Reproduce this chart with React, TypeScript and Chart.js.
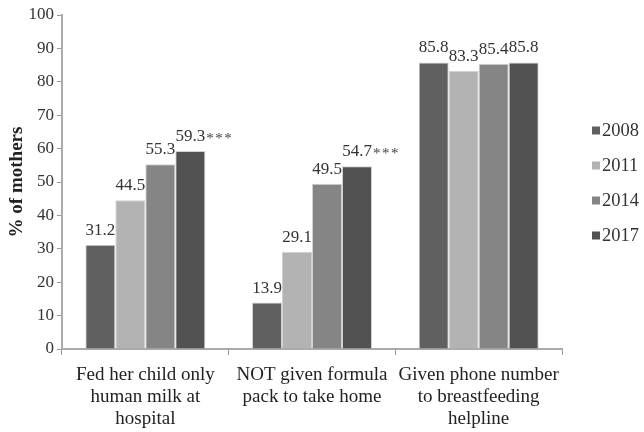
import React, { useEffect, useRef } from "react";
import { Chart, registerables } from "chart.js";

Chart.register(...registerables);

const categories: string[][] = [
  ["Fed her child only", "human milk at", "hospital"],
  ["NOT given formula", "pack to take home"],
  ["Given phone number", "to breastfeeding", "helpline"],
];
const years = ["2008", "2011", "2014", "2017"];
const values2008 = [31.2, 13.9, 85.8];
const values2011 = [44.5, 29.1, 83.3];
const values2014 = [55.3, 49.5, 85.4];
const values2017 = [59.3, 54.7, 85.8];
const marks2017 = ["***", "***", ""];
const yTicks = [0, 10, 20, 30, 40, 50, 60, 70, 80, 90, 100];
const colors = ["#606060", "#b3b3b3", "#858585", "#525252"];

const FONT = "'Liberation Serif', 'Times New Roman', serif";

export default function App() {
  const ref = useRef<HTMLCanvasElement | null>(null);
  useEffect(() => {
    if (!ref.current) return;
    const series = [values2008, values2011, values2014, values2017];
    const marks = [null, null, null, marks2017];

    const labelPlugin = {
      id: "barLabels",
      afterDatasetsDraw(chart: any) {
        const ctx = chart.ctx;
        ctx.save();
        chart.data.datasets.forEach((ds: any, di: number) => {
          const meta = chart.getDatasetMeta(di);
          meta.data.forEach((bar: any, i: number) => {
            const v = ds.data[i];
            const txt = v.toFixed(1);
            ctx.font = `17px ${FONT}`;
            ctx.fillStyle = "#333";
            ctx.textAlign = "center";
            ctx.textBaseline = "alphabetic";
            const y = bar.y - 10;
            ctx.fillText(txt, bar.x, y);
            const m = marks[di];
            if (m && m[i]) {
              const w = ctx.measureText(txt).width;
              ctx.font = `15px ${FONT}`;
              ctx.textAlign = "left";
              ctx.fillStyle = "#444";
              const chars = m[i].split("");
              chars.forEach((c: string, k: number) => {
                ctx.fillText(c, bar.x + w / 2 + 1 + k * 9, y + 2);
              });
            }
          });
        });
        ctx.restore();
      },
    };

    const legendPlugin = {
      id: "sideLegend",
      afterDraw(chart: any) {
        const ctx = chart.ctx;
        ctx.save();
        const area = chart.chartArea;
        const x0 = area.right + 30;
        const midY = (area.top + area.bottom) / 2;
        const step = 35;
        const startY = midY - ((years.length - 1) * step) / 2 + 1;
        years.forEach((yr, i) => {
          const cy = startY + i * step;
          ctx.fillStyle = colors[i];
          ctx.fillRect(x0, cy - 4, 8, 8);
          ctx.font = `18.5px ${FONT}`;
          ctx.fillStyle = "#333";
          ctx.textAlign = "left";
          ctx.textBaseline = "middle";
          ctx.fillText(yr, x0 + 10, cy + 1);
        });
        ctx.restore();
      },
    };

    const chart = new Chart(ref.current, {
      type: "bar",
      data: {
        labels: categories,
        datasets: years.map((yr, i) => ({
          label: yr,
          data: series[i],
          backgroundColor: colors[i],
          borderColor: "rgba(190,190,190,0.7)",
          borderWidth: 1,
          barPercentage: 1,
          categoryPercentage: 0.72,
        })),
      },
      options: {
        animation: false,
        responsive: false,
        devicePixelRatio: 1,
        layout: { padding: { top: 15, right: 82, bottom: 0, left: 0 } },
        plugins: {
          legend: { display: false },
          tooltip: { enabled: false },
        },
        scales: {
          x: {
            offset: true,
            grid: {
              offset: true,
              drawOnChartArea: false,
              drawTicks: true,
              tickLength: 6,
              color: "#999",
              lineWidth: 1,
            },
            border: { color: "#aaa", width: 2 },
            ticks: {
              color: "#222",
              padding: 9,
              font: { family: FONT, size: 19, lineHeight: 1.16 },
              maxRotation: 0,
              autoSkip: false,
            },
            afterFit: (s: any) => {
              s.height = 83;
            },
          },
          y: {
            min: 0,
            max: 100,
            afterBuildTicks: (s: any) => {
              s.ticks = yTicks.map((v) => ({ value: v }));
            },
            grid: {
              drawOnChartArea: false,
              drawTicks: true,
              tickLength: 5,
              color: "#999",
            },
            border: { color: "#aaa", width: 2 },
            ticks: {
              color: "#333",
              padding: 3,
              font: { family: FONT, size: 17 },
            },
            title: {
              display: true,
              text: "% of mothers",
              color: "#222",
              font: { family: FONT, size: 19, weight: "bold" },
              padding: { top: 6, bottom: 2 },
            },
            afterFit: (s: any) => {
              s.width = 62;
            },
          },
        },
      },
      plugins: [labelPlugin, legendPlugin],
    });
    return () => chart.destroy();
  }, []);
  return (
    <div style={{ position: "fixed", left: 0, top: 0, width: 644, height: 432, background: "#fff" }}>
      <canvas ref={ref} width={644} height={432} style={{ width: 644, height: 432 }} />
    </div>
  );
}
